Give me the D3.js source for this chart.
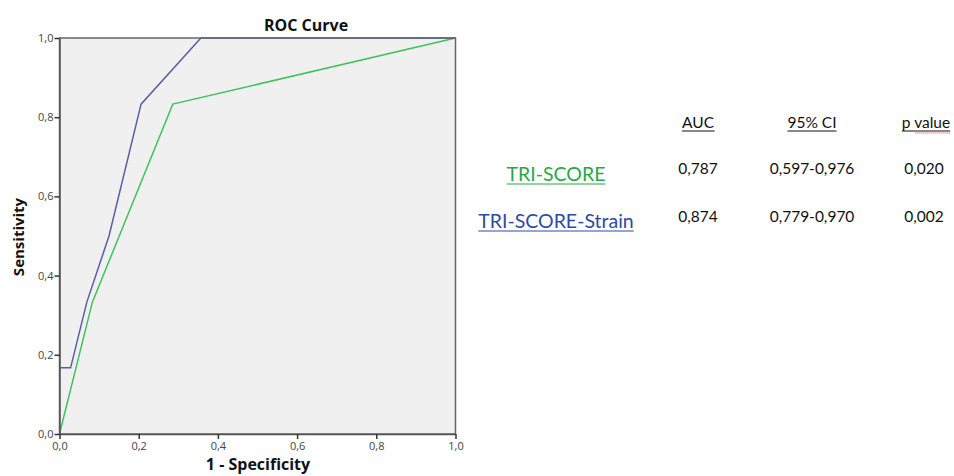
<!DOCTYPE html>
<html><head><meta charset="utf-8">
<script src="https://cdn.jsdelivr.net/npm/d3@7"></script>
<style>body{margin:0;background:#fff;} svg{display:block;}</style>
</head><body>
<svg id="c" width="954" height="476"></svg>
<script>
// Data
const triScoreFPR = [0, 0.083, 0.286, 1.0];
const triScoreTPR = [0, 0.333, 0.833, 1.0];
const strainFPR = [0, 0.028, 0.069, 0.125, 0.206, 0.357, 1.0];
const strainTPR = [0.167, 0.167, 0.333, 0.5, 0.833, 1.0, 1.0];
const axisTicks = [0, 0.2, 0.4, 0.6, 0.8, 1.0];
const tableHeaders = ["AUC", "95% CI", "p value"];
const seriesNames = ["TRI-SCORE", "TRI-SCORE-Strain"];
const aucValues = ["0,787", "0,874"];
const ciValues = ["0,597-0,976", "0,779-0,970"];
const pValues = ["0,020", "0,002"];
const seriesColors = ["#3ec45c", "#5d5ca6"];
const nameColors = ["#28a845", "#2d4ba3"];

const svg = d3.select("#c");
const L = 59.5, R = 455.5, T = 38, B = 434;
const x = d3.scaleLinear().domain([0,1]).range([L,R]);
const y = d3.scaleLinear().domain([0,1]).range([B,T]);
const fmt = d => d3.format(".1f")(d).replace(".", ",");

svg.append("rect").attr("x",L).attr("y",T).attr("width",R-L).attr("height",B-T)
  .attr("fill","#f0f0f0");

const line = d3.line().x(d=>x(d[0])).y(d=>y(d[1]));
const tri = triScoreFPR.map((v,i)=>[v, triScoreTPR[i]]);
const str = strainFPR.map((v,i)=>[v, strainTPR[i]]);
svg.append("path").attr("d", line(tri)).attr("fill","none").attr("stroke",seriesColors[0]).attr("stroke-width",1.5);
svg.append("path").attr("d", line(str)).attr("fill","none").attr("stroke",seriesColors[1]).attr("stroke-width",1.5);

svg.append("rect").attr("x",L).attr("y",T).attr("width",R-L).attr("height",B-T)
  .attr("fill","none").attr("stroke","#666").attr("stroke-width",1.5);

const xa = svg.append("g").attr("transform",`translate(0,${B})`)
  .call(d3.axisBottom(x).tickValues(axisTicks).tickFormat(fmt).tickSize(5).tickSizeOuter(0));
const ya = svg.append("g").attr("transform",`translate(${L},0)`)
  .call(d3.axisLeft(y).tickValues(axisTicks).tickFormat(fmt).tickSize(5).tickSizeOuter(0));
[xa, ya].forEach(g=>{
  g.select(".domain").attr("stroke","#555").attr("stroke-width",1.5);
  g.selectAll(".tick line").attr("stroke","#333").attr("stroke-width",1.5);
  g.selectAll(".tick text").attr("font-family","'Open Sans', sans-serif").attr("font-size",11).attr("fill","#444");
});
ya.selectAll(".tick text").attr("x",-6).attr("dy","0.32em");
xa.selectAll(".tick text").attr("y",8);

svg.append("text").attr("x",306).attr("y",31).attr("text-anchor","middle")
  .attr("font-family","'Open Sans', sans-serif").attr("font-weight","bold").attr("font-size",16)
  .attr("fill","#111").text("ROC Curve");
svg.append("text").attr("x",258).attr("y",470).attr("text-anchor","middle")
  .attr("font-family","'Open Sans', sans-serif").attr("font-weight","bold").attr("font-size",16)
  .attr("fill","#111").text("1 - Specificity");
svg.append("text").attr("transform","translate(24,237) rotate(-90)").attr("text-anchor","middle")
  .attr("font-family","'Open Sans', sans-serif").attr("font-weight","bold").attr("font-size",15)
  .attr("fill","#111").text("Sensitivity");

// Table
const colX = [698, 812, 926];
const font = "Lato, 'Open Sans', sans-serif";
tableHeaders.forEach((h,i)=>{
  const t = svg.append("text").attr("x",colX[i]).attr("y",128).attr("text-anchor","middle")
    .attr("font-family",font).attr("font-size",15.5).attr("fill","#111").text(h);
  const bb = t.node().getBBox();
  svg.append("line").attr("x1",bb.x).attr("x2",bb.x+bb.width).attr("y1",131).attr("y2",131)
    .attr("stroke","#111").attr("stroke-width",1);
  if (h === "p value") {
    svg.append("line").attr("x1",bb.x+bb.width*0.28).attr("x2",bb.x+bb.width).attr("y1",133).attr("y2",133)
      .attr("stroke","#d33").attr("stroke-width",1).attr("stroke-dasharray","1,1");
  }
});
const rowY = [174, 222];
const nameY = [181, 228];
seriesNames.forEach((n,i)=>{
  const t = svg.append("text").attr("x",556).attr("y",nameY[i]).attr("text-anchor","middle")
    .attr("font-family",font).attr("font-size",19.5).attr("fill",nameColors[i]).text(n);
  const bb = t.node().getBBox();
  svg.append("line").attr("x1",bb.x).attr("x2",bb.x+bb.width).attr("y1",nameY[i]+3).attr("y2",nameY[i]+3)
    .attr("stroke",nameColors[i]).attr("stroke-width",1.2);
  [aucValues[i], ciValues[i], pValues[i]].forEach((v,j)=>{
    svg.append("text").attr("x",colX[j]-(j==2?2:0)).attr("y",rowY[i]).attr("text-anchor","middle")
      .attr("font-family",font).attr("font-size",15.5).attr("fill","#111").text(v);
  });
});
</script>
</body></html>
